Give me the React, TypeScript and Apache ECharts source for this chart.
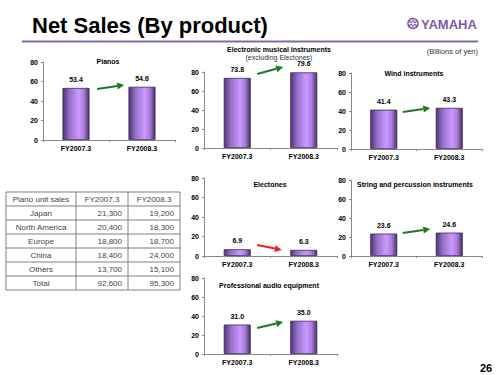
import React, { useEffect, useRef } from "react";
import * as echarts from "echarts";

// ---- data ----
const categories = ["FY2007.3", "FY2008.3"];
const pianos = [53.4, 54.6];
const electronic = [73.8, 79.6];
const wind = [41.4, 43.3];
const electones = [6.9, 6.3];
const stringPerc = [23.6, 24.6];
const proAudio = [31.0, 35.0];
const yMin = 0;
const yMax = 80;
const yInterval = 20;

const tableHeader = ["Piano unit sales", "FY2007.3", "FY2008.3"];
const regions = ["Japan", "North America", "Europe", "China", "Others", "Total"];
const units2007 = [21300, 20400, 18800, 18400, 13700, 92600];
const units2008 = [19200, 18300, 18700, 24000, 15100, 95300];

const FONT = "'Liberation Sans', Arial, sans-serif";
const GREEN = "#1f7a1f";
const RED = "#ee1c1c";

type Panel = {
  data: number[];
  grid: { left: number; top: number; width: number; height: number };
  titles: { text: string; x: number; y: number; bold: boolean }[];
  arrow: { from: [number, number]; to: [number, number]; color: string };
};

const panels: Panel[] = [
  {
    data: pianos,
    grid: { left: 43, top: 62, width: 132, height: 78 },
    titles: [{ text: "Pianos", x: 108, y: 61, bold: true }],
    arrow: { from: [0.32, 52.3], to: [0.73, 56.4], color: GREEN },
  },
  {
    data: electronic,
    grid: { left: 204, top: 72, width: 133, height: 76 },
    titles: [
      { text: "Electronic musical instruments", x: 279, y: 49, bold: true },
      { text: "(excluding Electones)", x: 279, y: 57.5, bold: false },
    ],
    arrow: { from: [0.3, 77.9], to: [0.69, 85.3], color: GREEN },
  },
  {
    data: wind,
    grid: { left: 351, top: 73, width: 131, height: 76 },
    titles: [{ text: "Wind instruments", x: 414, y: 73, bold: true }],
    arrow: { from: [0.29, 38.9], to: [0.71, 43.2], color: GREEN },
  },
  {
    data: electones,
    grid: { left: 204, top: 178, width: 133, height: 78 },
    titles: [{ text: "Electones", x: 270, y: 184, bold: true }],
    arrow: { from: [0.3, 11.3], to: [0.67, 6.2], color: RED },
  },
  {
    data: stringPerc,
    grid: { left: 351, top: 180, width: 131, height: 76 },
    titles: [{ text: "String and percussion instruments", x: 415, y: 184, bold: true }],
    arrow: { from: [0.29, 24.2], to: [0.71, 28.4], color: GREEN },
  },
  {
    data: proAudio,
    grid: { left: 204, top: 278, width: 133, height: 76 },
    titles: [{ text: "Professional audio equipment", x: 269, y: 285, bold: true }],
    arrow: { from: [0.3, 27.4], to: [0.69, 33.7], color: GREEN },
  },
];

const barGradient = {
  type: "linear",
  x: 0,
  y: 0,
  x2: 1,
  y2: 0,
  colorStops: [
    { offset: 0, color: "#4e3474" },
    { offset: 0.25, color: "#9470c8" },
    { offset: 0.6, color: "#cc99ff" },
    { offset: 0.8, color: "#a97ddb" },
    { offset: 1, color: "#45306a" },
  ],
};

function fmt(n: number) {
  return n.toLocaleString("en-US");
}

function buildStatic(): any[] {
  const g: any[] = [];
  // title
  g.push({
    type: "text",
    style: {
      x: 32,
      y: 25.5,
      text: "Net Sales (By product)",
      font: `bold 22px ${FONT}`,
      fill: "#000",
      textVerticalAlign: "middle",
    },
  });
  // purple rule
  g.push({
    type: "rect",
    shape: { x: 22, y: 40.5, width: 456, height: 2 },
    style: { fill: "#8766ad" },
  });
  // logo
  g.push({
    type: "circle",
    shape: { cx: 413, cy: 23.5, r: 5.8 },
    style: { fill: "#7b5aa6" },
  });
  g.push({
    type: "circle",
    shape: { cx: 413, cy: 23.5, r: 3.6 },
    style: { fill: "none", stroke: "#fff", lineWidth: 0.8 },
  });
  [0, 60, 120].forEach((deg) => {
    const a = (deg * Math.PI) / 180;
    g.push({
      type: "line",
      shape: {
        x1: 413 - Math.cos(a) * 4.6,
        y1: 23.5 - Math.sin(a) * 4.6,
        x2: 413 + Math.cos(a) * 4.6,
        y2: 23.5 + Math.sin(a) * 4.6,
      },
      style: { stroke: "#fff", lineWidth: 0.8 },
    });
  });
  g.push({
    type: "text",
    style: {
      x: 421,
      y: 24,
      text: "YAMAHA",
      font: `bold 13px ${FONT}`,
      fill: "#7b5aa6",
      textVerticalAlign: "middle",
    },
  });
  // unit note
  g.push({
    type: "text",
    style: {
      x: 478,
      y: 51,
      text: "(Billions of yen)",
      font: `7.5px ${FONT}`,
      fill: "#333",
      textAlign: "right",
      textVerticalAlign: "middle",
    },
  });
  // page number
  g.push({
    type: "text",
    style: {
      x: 486,
      y: 368,
      text: "26",
      font: `bold 11px ${FONT}`,
      fill: "#000",
      textAlign: "center",
      textVerticalAlign: "middle",
    },
  });
  // panel titles
  panels.forEach((p) => {
    p.titles.forEach((t) => {
      g.push({
        type: "text",
        style: {
          x: t.x,
          y: t.y,
          text: t.text,
          font: `${t.bold ? "bold " : ""}7px ${FONT}`,
          fill: t.bold ? "#000" : "#333",
          textAlign: "center",
          textVerticalAlign: "middle",
        },
      });
    });
  });
  // table
  const colX = [6, 76, 128, 180];
  const rowTop = 192;
  const rowH = 14;
  const rows: string[][] = [tableHeader];
  regions.forEach((r, i) => rows.push([r, fmt(units2007[i]), fmt(units2008[i])]));
  const tableBottom = rowTop + rowH * rows.length;
  g.push({
    type: "rect",
    shape: { x: colX[0], y: rowTop, width: colX[3] - colX[0], height: tableBottom - rowTop },
    style: { fill: "#fff", stroke: "#808080", lineWidth: 1 },
  });
  for (let i = 1; i < rows.length; i++) {
    g.push({
      type: "line",
      shape: { x1: colX[0], y1: rowTop + i * rowH, x2: colX[3], y2: rowTop + i * rowH },
      style: { stroke: "#808080", lineWidth: 1 },
    });
  }
  for (let j = 1; j < 3; j++) {
    g.push({
      type: "line",
      shape: { x1: colX[j], y1: rowTop, x2: colX[j], y2: tableBottom },
      style: { stroke: "#808080", lineWidth: 1 },
    });
  }
  rows.forEach((row, i) => {
    row.forEach((cell, j) => {
      const center = i === 0 || j === 0;
      g.push({
        type: "text",
        style: {
          x: center ? (colX[j] + colX[j + 1]) / 2 : colX[j + 1] - 6,
          y: rowTop + i * rowH + rowH / 2,
          text: cell,
          font: `8px ${FONT}`,
          fill: "#444",
          textAlign: center ? "center" : "right",
          textVerticalAlign: "middle",
        },
      });
    });
  });
  return g;
}

export default function App() {
  const ref = useRef<HTMLDivElement>(null);
  useEffect(() => {
    if (!ref.current) return;
    const chart = echarts.init(ref.current, undefined, { renderer: "svg" });
    const axisLabel = { fontFamily: FONT, fontSize: 7, fontWeight: "bold", color: "#000" };
    const option: any = {
      animation: false,
      backgroundColor: "#fff",
      grid: panels.map((p) => ({ ...p.grid, containLabel: false })),
      xAxis: panels.map((_, i) => ({
        type: "category",
        gridIndex: i,
        data: categories,
        axisLine: { lineStyle: { color: "#888", width: 1 } },
        axisTick: { show: true, length: 2, lineStyle: { color: "#888" } },
        axisLabel: { ...axisLabel, margin: 5 },
      })),
      yAxis: panels.map((_, i) => ({
        type: "value",
        gridIndex: i,
        min: yMin,
        max: yMax,
        interval: yInterval,
        splitLine: { show: false },
        axisLine: { show: true, lineStyle: { color: "#888", width: 1 } },
        axisTick: { show: true, length: 2, lineStyle: { color: "#888" } },
        axisLabel: { ...axisLabel, margin: 5 },
      })),
      series: panels.map((p, i) => ({
        type: "bar",
        xAxisIndex: i,
        yAxisIndex: i,
        data: p.data,
        barWidth: 27,
        itemStyle: { color: barGradient, borderColor: "#3b2858", borderWidth: 0.8 },
        label: {
          show: true,
          position: "top",
          distance: 5,
          fontFamily: FONT,
          fontSize: 7,
          fontWeight: "bold",
          color: "#000",
          formatter: (prm: any) => Number(prm.value).toFixed(1),
        },
      })),
      graphic: buildStatic(),
    };
    chart.setOption(option);

    // arrows positioned through the axes
    const arrows: any[] = [];
    panels.forEach((p, i) => {
      const c0 = chart.convertToPixel({ gridIndex: i }, [0, 0]) as number[];
      const c1 = chart.convertToPixel({ gridIndex: i }, [1, 0]) as number[];
      const pt = (fx: number, v: number) => {
        const y = (chart.convertToPixel({ gridIndex: i }, [0, v]) as number[])[1];
        return [c0[0] + fx * (c1[0] - c0[0]), y];
      };
      const a = pt(p.arrow.from[0], p.arrow.from[1]);
      const b = pt(p.arrow.to[0], p.arrow.to[1]);
      const dx = b[0] - a[0];
      const dy = b[1] - a[1];
      const len = Math.sqrt(dx * dx + dy * dy);
      const ux = dx / len;
      const uy = dy / len;
      const headL = 7;
      const headW = 3.5;
      const base = [b[0] - ux * headL, b[1] - uy * headL];
      arrows.push({
        type: "line",
        shape: { x1: a[0], y1: a[1], x2: base[0], y2: base[1] },
        style: { stroke: p.arrow.color, lineWidth: 2 },
      });
      arrows.push({
        type: "polygon",
        shape: {
          points: [
            [b[0], b[1]],
            [base[0] - uy * headW, base[1] + ux * headW],
            [base[0] + uy * headW, base[1] - ux * headW],
          ],
        },
        style: { fill: p.arrow.color },
      });
    });
    chart.setOption({ graphic: [...buildStatic(), ...arrows] }, { replaceMerge: ["graphic"] });

    return () => chart.dispose();
  }, []);
  return (
    <div
      ref={ref}
      style={{ position: "fixed", left: 0, top: 0, width: 500, height: 375, background: "#fff" }}
    />
  );
}
